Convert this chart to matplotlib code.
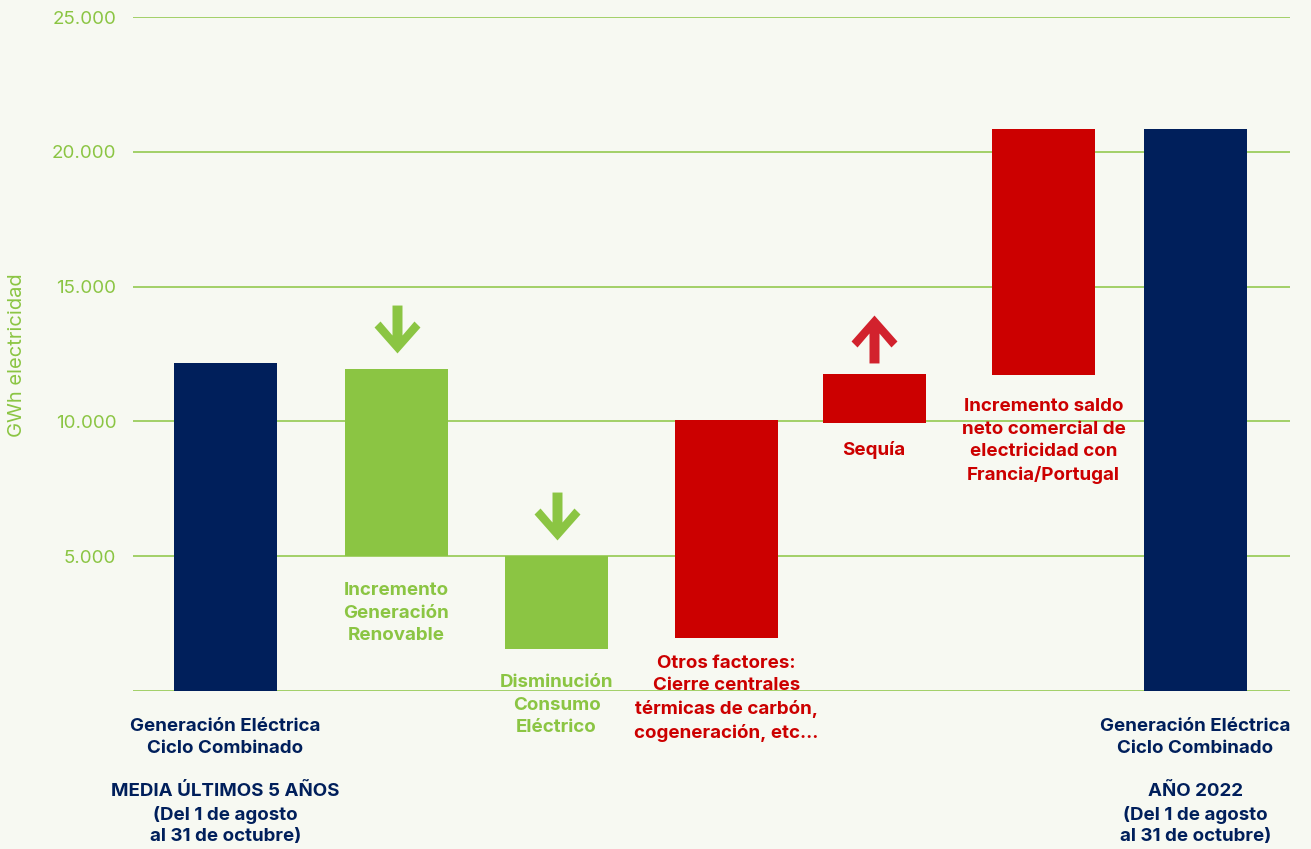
import numpy as np
import matplotlib.pyplot as plt
from matplotlib.path import Path
from matplotlib.ticker import FuncFormatter

# ---- data (GWh) ----
labels = [
    "Generación Eléctrica\nCiclo Combinado\n\nMEDIA ÚLTIMOS 5 AÑOS\n(Del 1 de agosto\nal 31 de octubre)",
    "Incremento\nGeneración\nRenovable",
    "Disminución\nConsumo\nEléctrico",
    "Otros factores:\nCierre centrales\ntérmicas de carbón,\ncogeneración, etc...",
    "Sequía",
    "Incremento saldo\nneto comercial de\nelectricidad con\nFrancia/Portugal",
    "Generación Eléctrica\nCiclo Combinado\n\nAÑO 2022\n(Del 1 de agosto\nal 31 de octubre)",
]
bar_bottom = [0, 5000, 1560, 1970, 9940, 11720, 0]
bar_top = [12170, 11940, 5000, 10050, 11760, 20850, 20850]
kind = ["total", "down", "down", "up", "up", "up", "total"]
yticks = [0, 5000, 10000, 15000, 20000, 25000]

# layout (x positions of the bar centres, irregular like the original)
xpos = [0.925, 2.635, 4.235, 5.935, 7.41, 9.105, 10.625]
bar_w = 1.03
label_gap = [19.4, 18.7, 18, 12.2, 13, 16.5, 19.4]  # points below bar bottom
label_ls = [1.37, 1.43, 1.43, 1.43, 1.43, 1.43, 1.37]

NAVY = "#001f5b"
GREEN = "#8bc543"
RED = "#cc0000"
RED_ARROW = "#d2222d"
BG = "#f7f9f2"
colors = {"total": NAVY, "down": GREEN, "up": RED}

plt.rcParams['font.family'] = ['Inter', 'DejaVu Sans']

fig = plt.figure(figsize=(13.11, 8.49), dpi=100, facecolor=BG)
ax = fig.add_axes([133 / 1311, 1 - 691 / 849, (1290 - 133) / 1311, (691 - 17) / 849])
ax.set_facecolor(BG)

heights = [t - b for t, b in zip(bar_top, bar_bottom)]
ax.bar(xpos, heights, bottom=bar_bottom, width=bar_w,
       color=[colors[k] for k in kind], zorder=3)

ax.set_xlim(0, 11.57)
ax.set_ylim(0, 25000)
ax.set_yticks(yticks)
ax.yaxis.set_major_formatter(FuncFormatter(
    lambda v, p: "" if v == 0 else f"{int(v):,}".replace(",", ".")))
ax.tick_params(axis='y', length=0, pad=12, labelsize=13.5, labelcolor=GREEN)
ax.set_xticks([])
ax.grid(axis='y', color=GREEN, lw=1.1, zorder=0)
for s in ax.spines.values():
    s.set_visible(False)

fig.text(17 / 1311, 1 - 355 / 849, "GWh electricidad", rotation=90,
         ha='center', va='center', color=GREEN, fontsize=14.5)

# arrow marker (down pointing), vertices in pixels centred on the arrow
arrow_v = np.array([
    (0, -24), (23, 2), (17, 8), (5, -6), (5, 24), (-5, 24),
    (-5, -6), (-17, 8), (-23, 2), (0, -24)], dtype=float)
down_arrow = Path(arrow_v, closed=True)
up_arrow = Path(arrow_v * [1, -1], closed=True)

for i in [1, 2]:
    ax.plot(xpos[i], bar_top[i] + 1500, marker=down_arrow, markersize=34.5,
            color=GREEN, mec='none', zorder=4, clip_on=False)
ax.plot(xpos[4], bar_top[4] + 1300, marker=up_arrow, markersize=34.5,
        color=RED_ARROW, mec='none', zorder=4, clip_on=False)

# labels under each bar
for i, (x, b, k) in enumerate(zip(xpos, bar_bottom, kind)):
    ax.annotate(labels[i], xy=(x, b), xytext=(0, -label_gap[i]), textcoords='offset points',
                ha='center', va='top', fontsize=13.5, fontweight='bold',
                color=colors[k], linespacing=label_ls[i], annotation_clip=False)

fig.savefig("out.png", dpi=100, facecolor=BG)
